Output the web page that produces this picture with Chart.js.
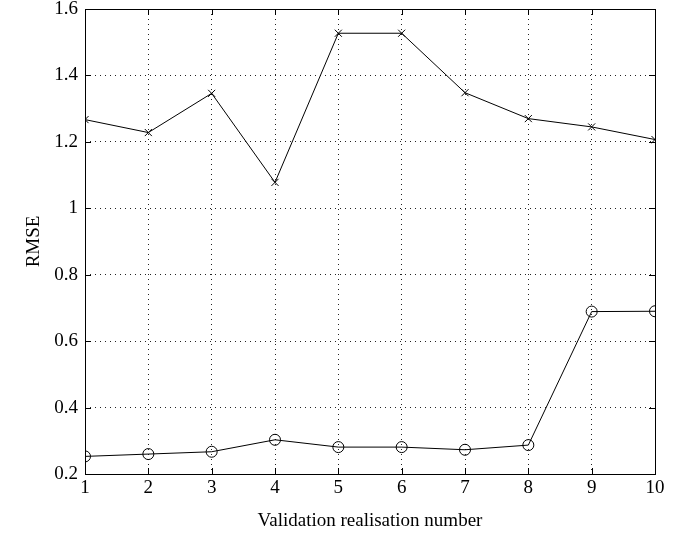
<!DOCTYPE html>
<html>
<head>
<meta charset="utf-8">
<script src="https://cdn.jsdelivr.net/npm/chart.js@4.4.1/dist/chart.umd.min.js"></script>
<style>
  html, body { margin: 0; padding: 0; background: #fff; }
  #wrap { width: 685px; height: 540px; }
</style>
</head>
<body>
<div id="wrap"><canvas id="chart" width="685" height="540"></canvas></div>
<script>
// realisation number 1..10
const realisations = [1, 2, 3, 4, 5, 6, 7, 8, 9, 10];
// upper curve (x markers)
const rmseCross = [1.267, 1.228, 1.346, 1.078, 1.527, 1.527, 1.348, 1.270, 1.245, 1.207];
// lower curve (o markers)
const rmseCircle = [0.253, 0.260, 0.267, 0.303, 0.281, 0.281, 0.273, 0.287, 0.689, 0.690];
const yTicks = [0.2, 0.4, 0.6, 0.8, 1.0, 1.2, 1.4, 1.6];

const serif = "'Liberation Serif', 'Times New Roman', serif";
const fontSize = 19;

function toPoints(vals) {
  return realisations.map((x, i) => ({ x: x, y: vals[i] }));
}

// box round the axes plus inward tick marks, matlab style
const boxPlugin = {
  id: 'box',
  afterDraw(chart) {
    const ctx = chart.ctx;
    const a = chart.chartArea;
    const xs = chart.scales.x, ys = chart.scales.y;
    const len = 6;
    ctx.save();
    ctx.strokeStyle = '#000';
    ctx.lineWidth = 1;
    ctx.beginPath();
    xs.ticks.forEach(t => {
      const px = Math.round(xs.getPixelForValue(t.value)) + 0.5;
      ctx.moveTo(px, a.bottom); ctx.lineTo(px, a.bottom - len);
      ctx.moveTo(px, a.top); ctx.lineTo(px, a.top + len);
    });
    ys.ticks.forEach(t => {
      const py = Math.round(ys.getPixelForValue(t.value)) + 0.5;
      ctx.moveTo(a.left, py); ctx.lineTo(a.left + len, py);
      ctx.moveTo(a.right, py); ctx.lineTo(a.right - len, py);
    });
    ctx.stroke();
    ctx.strokeRect(Math.round(a.left) + 0.5, Math.round(a.top) + 0.5,
      Math.round(a.right - a.left), Math.round(a.bottom - a.top));
    ctx.restore();
  }
};

new Chart(document.getElementById('chart'), {
  type: 'scatter',
  data: {
    datasets: [
      {
        label: 'cross',
        data: toPoints(rmseCross),
        showLine: true,
        borderColor: '#000',
        backgroundColor: 'rgba(0,0,0,0)',
        borderWidth: 1,
        pointStyle: 'crossRot',
        pointRadius: 5,
        pointBorderWidth: 1,
        pointBorderColor: '#000'
      },
      {
        label: 'circle',
        data: toPoints(rmseCircle),
        showLine: true,
        borderColor: '#000',
        backgroundColor: 'rgba(0,0,0,0)',
        borderWidth: 1,
        pointStyle: 'circle',
        pointRadius: 5.5,
        pointBorderWidth: 1,
        pointBorderColor: '#000',
        pointBackgroundColor: 'rgba(0,0,0,0)'
      }
    ]
  },
  options: {
    responsive: false,
    animation: false,
    layout: { padding: { left: 0, top: 9, right: 30, bottom: 0 } },
    plugins: {
      legend: { display: false },
      tooltip: { enabled: false }
    },
    scales: {
      x: {
        type: 'linear',
        min: 1,
        max: 10,
        afterFit(scale) {
          scale.height = 66;
          scale.paddingLeft = 0;
          scale.paddingRight = 0;
        },
        border: { display: false, dash: [1, 4] },
        grid: {
          drawTicks: false,
          color: ctx => (ctx.tick && (ctx.tick.value === 1 || ctx.tick.value === 10)) ? 'rgba(0,0,0,0)' : '#222',
          lineWidth: 1
        },
        ticks: {
          stepSize: 1,
          color: '#000',
          padding: 3,
          font: { family: serif, size: fontSize }
        },
        title: {
          display: true,
          text: 'Validation realisation number',
          color: '#000',
          font: { family: serif, size: fontSize },
          padding: { top: 0, bottom: 8 }
        }
      },
      y: {
        type: 'linear',
        min: 0.2,
        max: 1.6,
        afterFit(scale) {
          scale.width = 85;
          scale.paddingTop = 0;
          scale.paddingBottom = 0;
        },
        afterBuildTicks(scale) { scale.ticks = yTicks.map(v => ({ value: v })); },
        border: { display: false, dash: [1, 4] },
        grid: {
          drawTicks: false,
          color: ctx => (ctx.tick && (ctx.tick.value === 0.2 || ctx.tick.value === 1.6)) ? 'rgba(0,0,0,0)' : '#222',
          lineWidth: 1
        },
        ticks: {
          color: '#000',
          padding: 7,
          font: { family: serif, size: fontSize },
          callback: v => String(Number(v.toFixed(1)))
        },
        title: {
          display: true,
          text: 'RMSE',
          color: '#000',
          font: { family: serif, size: fontSize },
          padding: { top: 23, bottom: 0 }
        }
      }
    }
  },
  plugins: [boxPlugin]
});
</script>
</body>
</html>
